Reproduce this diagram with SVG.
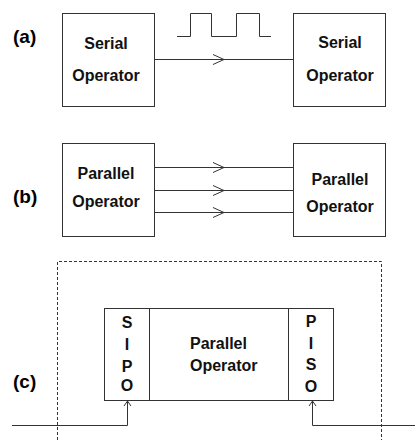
<svg xmlns="http://www.w3.org/2000/svg" width="417" height="440" viewBox="0 0 417 440">
<defs>
<style>
.box{fill:#fff;stroke:#333;stroke-width:1}
.ln{fill:none;stroke:#333;stroke-width:1}
.t{font-family:"Liberation Sans",Arial,sans-serif;font-size:16px;font-weight:bold;fill:#111;text-anchor:middle}
.lbl{font-family:"Liberation Sans",Arial,sans-serif;font-size:19px;font-weight:bold;fill:#000}
.dash{fill:none;stroke:#333;stroke-width:1;stroke-dasharray:3,2}
</style>
</defs>
<rect width="417" height="440" fill="#fff"/>
<text class="lbl" x="13" y="43">(a)</text>
<text class="lbl" x="13" y="203">(b)</text>
<text class="lbl" x="13" y="388">(c)</text>
<path class="dash" d="M57.5,440 V261.5 H381.5 V440"/>
<g id="a-left"><rect class="box" x="62.5" y="13.5" width="92" height="93"/><text class="t" x="106" y="49">Serial</text><text class="t" x="106" y="81">Operator</text></g>
<g id="a-right"><rect class="box" x="293.5" y="13.5" width="92" height="93"/><text class="t" x="340" y="48">Serial</text><text class="t" x="340" y="81">Operator</text></g>
<g id="b-left"><rect class="box" x="62.5" y="143.5" width="92" height="93"/><text class="t" x="106" y="179">Parallel</text><text class="t" x="106" y="207">Operator</text></g>
<g id="b-right"><rect class="box" x="293.5" y="143.5" width="92" height="93"/><text class="t" x="340" y="185">Parallel</text><text class="t" x="340" y="212">Operator</text></g>
<g id="c-box">
<rect class="box" x="104.5" y="308.5" width="229" height="92"/>
<line class="ln" x1="149.5" y1="308.5" x2="149.5" y2="400.5"/>
<line class="ln" x1="288.5" y1="308.5" x2="288.5" y2="400.5"/>
<g id="sipo"><text class="t" x="127" y="328">S</text><text class="t" x="127" y="350">I</text><text class="t" x="127" y="372">P</text><text class="t" x="127" y="391">O</text></g>
<g id="piso"><text class="t" x="311" y="327">P</text><text class="t" x="311" y="349">I</text><text class="t" x="311" y="370">S</text><text class="t" x="311" y="392">O</text></g>
<text class="t" x="190" y="349" text-anchor="start" style="text-anchor:start">Parallel</text><text class="t" x="190" y="371" style="text-anchor:start">Operator</text>
</g>
<g id="connectors">
<path class="ln" d="M177,36.5 H190.5 V13.5 H211.5 V36.5 H236.5 V13.5 H259.5 V36.5 H271"/>
<line class="ln" x1="154.5" y1="59.5" x2="293.5" y2="59.5"/>
<path class="ln" d="M213,54.5 L224,59.5 L213,64.5"/>
<line class="ln" x1="154.5" y1="167.5" x2="293.5" y2="167.5"/>
<path class="ln" d="M213,162.5 L224,167.5 L213,172.5"/>
<line class="ln" x1="154.5" y1="190.5" x2="293.5" y2="190.5"/>
<path class="ln" d="M213,185.5 L224,190.5 L213,195.5"/>
<line class="ln" x1="154.5" y1="212.5" x2="293.5" y2="212.5"/>
<path class="ln" d="M213,207.5 L224,212.5 L213,217.5"/>
<path class="ln" d="M12,425.5 H127.5 V401"/>
<path class="ln" d="M124,406 L127.5,401 L131,406"/>
<path class="ln" d="M415,425.5 H312.5 V401"/>
<path class="ln" d="M309,406 L312.5,401 L316,406"/>
</g>
</svg>
